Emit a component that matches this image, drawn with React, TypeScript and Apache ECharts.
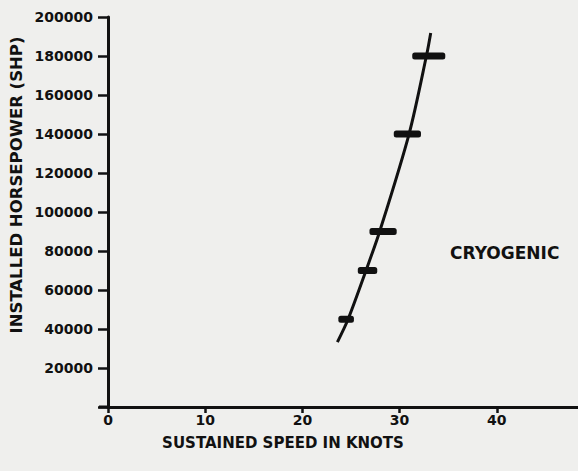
import React, { useEffect, useRef } from "react";
import * as echarts from "echarts";

// Tick values
const xTicks = [0, 10, 20, 30, 40];
const yTicks = [20000, 40000, 60000, 80000, 100000, 120000, 140000, 160000, 180000, 200000];

// Range bars: low speed, high speed, installed horsepower
const barLow = [23.7, 25.7, 26.9, 29.4, 31.3];
const barHigh = [25.3, 27.7, 29.7, 32.2, 34.7];
const barHp = [45000, 70000, 90000, 140000, 180000];

// Trend curve
const curveSpeed = [23.6, 24.7, 26.6, 28.0, 31.0, 32.8, 33.2];
const curveHp = [33300, 45000, 70800, 90800, 140500, 181000, 191800];

const FONT = "DejaVu Sans";
const INK = "#111111";

export default function App() {
  const ref = useRef<HTMLDivElement>(null);
  useEffect(() => {
    if (!ref.current) return;
    const chart = echarts.init(ref.current, null, { renderer: "svg" });
    const barData = barLow.map((lo, i) => [lo, barHigh[i], barHp[i]]);
    const curveData = curveSpeed.map((s, i) => [s, curveHp[i]]);
    chart.setOption({
      animation: false,
      backgroundColor: "#efefed",
      grid: { left: 108, top: 17, bottom: 64, right: -16, containLabel: false, outerBoundsMode: "none" },
      xAxis: {
        type: "value",
        min: 0,
        max: 50,
        interval: 10,
        splitLine: { show: false },
        axisLine: { show: true, lineStyle: { color: INK, width: 3 } },
        axisTick: { show: true, length: 6, lineStyle: { color: INK, width: 2.5 } },
        axisLabel: {
          margin: 6,
          color: INK,
          fontFamily: FONT,
          fontWeight: "bold",
          fontSize: 14,
          formatter: (v: number) => (xTicks.includes(v) ? String(v) : ""),
        },
      },
      yAxis: {
        type: "value",
        min: 0,
        max: 200000,
        interval: 20000,
        splitLine: { show: false },
        axisLine: { show: true, lineStyle: { color: INK, width: 3 } },
        axisTick: { show: true, length: 10, lineStyle: { color: INK, width: 2.5 } },
        axisLabel: {
          margin: 15,
          color: INK,
          fontFamily: FONT,
          fontWeight: "bold",
          fontSize: 14,
          formatter: (v: number) => (yTicks.includes(v) ? String(v) : ""),
        },
      },
      series: [
        {
          type: "line",
          data: curveData,
          smooth: 0.3,
          symbol: "none",
          lineStyle: { color: INK, width: 3 },
          z: 3,
        },
        {
          type: "custom",
          data: barData,
          encode: { x: [0, 1], y: 2 },
          z: 4,
          renderItem: (params: any, api: any) => {
            const lo = api.coord([api.value(0), api.value(2)]);
            const hi = api.coord([api.value(1), api.value(2)]);
            return {
              type: "rect",
              shape: { x: lo[0], y: lo[1] - 3.5, width: hi[0] - lo[0], height: 7, r: 2.5 },
              style: { fill: INK },
            };
          },
        },
      ],
      graphic: [
        {
          type: "line",
          shape: { x1: 99, y1: 407, x2: 108, y2: 407 },
          style: { stroke: INK, lineWidth: 3 },
        },
        {
          type: "text",
          x: 283,
          y: 443,
          style: {
            text: "SUSTAINED SPEED IN KNOTS",
            fill: INK,
            font: `bold 15px "${FONT}"`,
            textAlign: "center",
            textVerticalAlign: "middle",
          },
        },
        {
          type: "text",
          x: 16,
          y: 185,
          rotation: Math.PI / 2,
          style: {
            text: "INSTALLED HORSEPOWER (SHP)",
            fill: INK,
            font: `bold 16.5px "${FONT}"`,
            textAlign: "center",
            textVerticalAlign: "middle",
          },
        },
        {
          type: "text",
          x: 450,
          y: 253,
          style: {
            text: "CRYOGENIC",
            fill: INK,
            font: `bold 17px "${FONT}"`,
            textAlign: "left",
            textVerticalAlign: "middle",
          },
        },
      ],
    });
    return () => chart.dispose();
  }, []);
  return (
    <div
      ref={ref}
      style={{ position: "fixed", left: 0, top: 0, width: 578, height: 471 }}
    />
  );
}
